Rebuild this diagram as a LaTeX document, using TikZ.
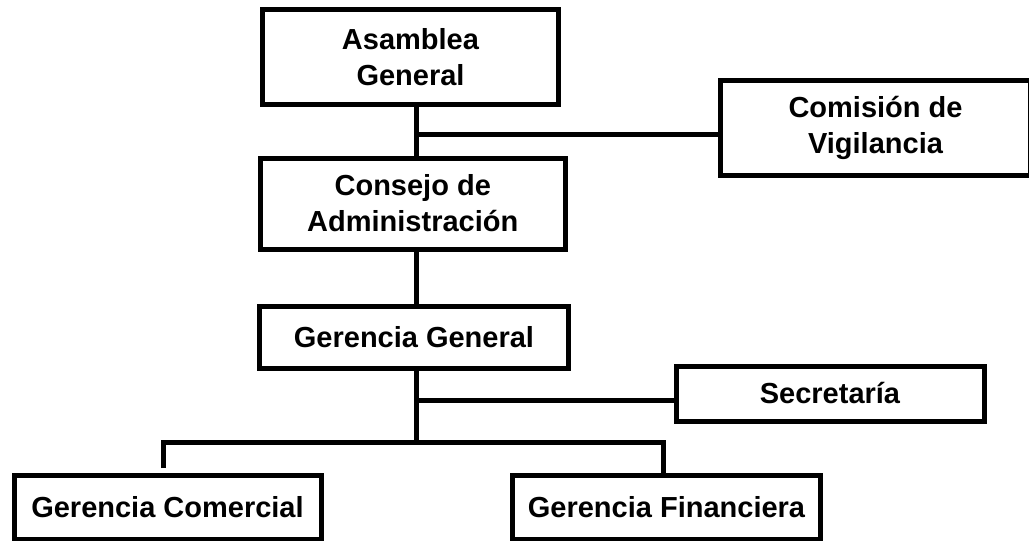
\documentclass[tikz,border=0pt]{standalone}
\usepackage{fontspec}
\setmainfont{Liberation Sans}
\begin{document}
\begin{tikzpicture}[x=0.5pt,y=-0.5pt,
  unit/.style={draw=black, line width=2.5pt, fill=white, rectangle, align=center,
    inner sep=0pt, outer sep=0pt, font=\fontsize{14.5}{18}\selectfont\bfseries},
  link/.style={draw=black, line width=2.5pt, line join=miter}]
\useasboundingbox (0,0) rectangle (1029,541);

% boxes of the organisation chart
\node[unit, minimum width=148pt, minimum height=47.25pt] (ag) at (410.5,57) {Asamblea\\General};
\node[unit, minimum width=155pt, minimum height=47.5pt] (cv) at (875.5,127.5) {Comisión de\\Vigilancia};
\node[unit, minimum width=152.75pt, minimum height=45.5pt] (ca) at (412.75,203.5) {Consejo de\\Administración};
\node[unit, minimum width=154.25pt, minimum height=31pt] (gg) at (414,337.6) {Gerencia General};
\node[unit, minimum width=154pt, minimum height=27.5pt] (sec) at (830,393.5) {Secretaría};
\node[unit, minimum width=153.5pt, minimum height=32pt] (gc) at (167.5,507) {Gerencia Comercial};
\node[unit, minimum width=154pt, minimum height=32pt] (gf) at (666.5,507) {Gerencia Financiera};

% junction points of the main trunk and the branches
\coordinate (t) at (416,0);
\coordinate (j1) at (416,134.7);
\coordinate (j2) at (419,400);
\coordinate (j3) at (416,442);
\coordinate (bl) at (163.5,442);
\coordinate (br) at (663,442);

% connectors
\draw[link] (t |- ag.south) -- (t |- ca.north);
\draw[link] (j1) -- (j1 -| cv.west);
\draw[link] (t |- ca.south) -- (t |- gg.north);
\draw[link] (t |- gg.south) -- (j3);
\draw[link] (j2) -- (j2 -| sec.west);
\draw[link, shorten <=3.5pt] (bl |- gc.north) -- (bl) -- (br) -- (br |- gf.north);
\end{tikzpicture}
\end{document}
